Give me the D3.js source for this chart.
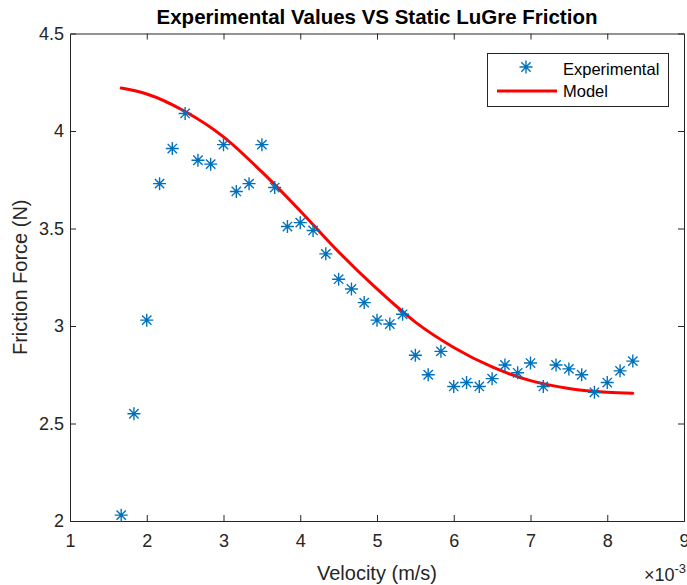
<!DOCTYPE html>
<html><head><meta charset="utf-8">
<script src="https://cdn.jsdelivr.net/npm/d3@7"></script>
<style>body{margin:0;background:#fff;}svg{display:block;font-family:"Liberation Sans",Arial,sans-serif;}</style>
</head><body>
<svg id="c" width="687" height="585"></svg>
<script>
// Velocity in units of 1e-3 m/s
const expVelocity = [1.667,1.833,2.0,2.167,2.333,2.5,2.667,2.833,3.0,3.167,3.333,3.5,3.667,3.833,4.0,4.167,4.333,4.5,4.667,4.833,5.0,5.167,5.333,5.5,5.667,5.833,6.0,6.167,6.333,6.5,6.667,6.833,7.0,7.167,7.333,7.5,7.667,7.833,8.0,8.167,8.333];
const expForce = [2.03,2.55,3.03,3.73,3.91,4.09,3.85,3.83,3.93,3.69,3.73,3.93,3.71,3.51,3.53,3.49,3.37,3.24,3.19,3.12,3.03,3.01,3.06,2.85,2.75,2.87,2.69,2.71,2.69,2.73,2.80,2.76,2.81,2.69,2.80,2.78,2.75,2.66,2.71,2.77,2.82];
const modelVelocity = [1.667,2.0,2.5,3.0,3.5,4.0,4.5,5.0,5.5,6.0,6.5,7.0,7.5,8.0,8.333];
const modelForce = [4.22,4.19,4.10,3.97,3.79,3.59,3.38,3.19,3.02,2.89,2.79,2.72,2.68,2.66,2.655];
const xTicks = [1,2,3,4,5,6,7,8,9];
const yTicks = [2,2.5,3,3.5,4,4.5];
const titleText = "Experimental Values VS Static LuGre Friction";
const xLabel = "Velocity (m/s)";
const yLabel = "Friction Force (N)";
const legendLabels = ["Experimental","Model"];

const svg = d3.select("#c");
const L = 70, R = 684, T = 33.5, B = 521;
const x = d3.scaleLinear().domain([1,9]).range([L,R]);
const y = d3.scaleLinear().domain([2,4.5]).range([B,T]);
const axCol = "#262626";
const blue = "#0072BD";
const FF = '"Liberation Sans",Arial,sans-serif';

// axes with inward ticks
const tl = 6;
const gB = svg.append("g").attr("transform",`translate(0,${B})`)
  .call(d3.axisBottom(x).tickValues(xTicks).tickSize(-tl).tickPadding(13).tickFormat(d3.format("d")));
const gT = svg.append("g").attr("transform",`translate(0,${T})`)
  .call(d3.axisTop(x).tickValues(xTicks).tickSize(-tl).tickFormat(""));
const gL = svg.append("g").attr("transform",`translate(${L},0)`)
  .call(d3.axisLeft(y).tickValues(yTicks).tickSize(-tl).tickPadding(6).tickFormat(d=>String(d)));
const gR = svg.append("g").attr("transform",`translate(${R},0)`)
  .call(d3.axisRight(y).tickValues(yTicks).tickSize(-tl).tickFormat(""));
[gB,gT,gL,gR].forEach(g=>{
  g.select(".domain").attr("stroke",axCol).attr("stroke-width",1);
  g.selectAll(".tick line").attr("stroke",axCol).attr("stroke-width",1);
  g.selectAll(".tick text").attr("fill",axCol).attr("font-size",18).attr("font-family",FF);
});
// hide tick marks at the corners
gT.selectAll(".tick").filter(d=>d===1||d===9).select("line").remove();
gB.selectAll(".tick").filter(d=>d===1||d===9).select("line").remove();
gL.selectAll(".tick").filter(d=>d===2||d===4.5).select("line").remove();
gR.selectAll(".tick").filter(d=>d===2||d===4.5).select("line").remove();

// model line
const line = d3.line().x((d,i)=>x(modelVelocity[i])).y(d=>y(d)).curve(d3.curveMonotoneX);
svg.append("path").datum(modelForce).attr("d",line)
  .attr("fill","none").attr("stroke","#ff0000").attr("stroke-width",3).attr("stroke-linecap","round");

// asterisk markers
function asterisk(g, cx, cy, r){
  const p = d3.path();
  p.moveTo(cx-r,cy); p.lineTo(cx+r,cy);
  p.moveTo(cx,cy-r); p.lineTo(cx,cy+r);
  const d = r*0.72;
  p.moveTo(cx-d,cy-d); p.lineTo(cx+d,cy+d);
  p.moveTo(cx-d,cy+d); p.lineTo(cx+d,cy-d);
  g.append("path").attr("d",p.toString()).attr("stroke",blue).attr("stroke-width",1.4).attr("fill","none");
}
const gm = svg.append("g");
expForce.forEach((v,i)=>asterisk(gm, x(expVelocity[i]), y(v), 6.5));

// title
svg.append("text").attr("x",(L+R)/2).attr("y",24).attr("text-anchor","middle")
  .attr("font-size",20.5).attr("font-weight","bold").attr("fill","#000").text(titleText);
// axis labels
svg.append("text").attr("x",(L+R)/2).attr("y",580).attr("text-anchor","middle")
  .attr("font-size",20).attr("fill",axCol).text(xLabel);
svg.append("text").attr("transform",`translate(27,${(T+B)/2}) rotate(-90)`).attr("text-anchor","middle")
  .attr("font-size",20).attr("fill",axCol).text(yLabel);
// exponent
const ex = svg.append("text").attr("x",686).attr("y",581).attr("text-anchor","end").attr("fill",axCol).attr("font-size",18);
ex.append("tspan").text("\u00d710");
ex.append("tspan").attr("font-size",13).attr("dy",-8).text("-3");

// legend
const lg = svg.append("g");
lg.append("rect").attr("x",487.5).attr("y",53.5).attr("width",181).attr("height",53)
  .attr("fill","#fff").attr("stroke",axCol).attr("stroke-width",1);
asterisk(lg, 526, 67, 6.5);
lg.append("line").attr("x1",497).attr("x2",557).attr("y1",91).attr("y2",91)
  .attr("stroke","#ff0000").attr("stroke-width",3);
lg.selectAll("text.lt").data(legendLabels).join("text").attr("class","lt")
  .attr("x",563).attr("y",(d,i)=>75+i*22).attr("font-size",16.5).attr("fill","#000").text(d=>d);
</script>
</body></html>
